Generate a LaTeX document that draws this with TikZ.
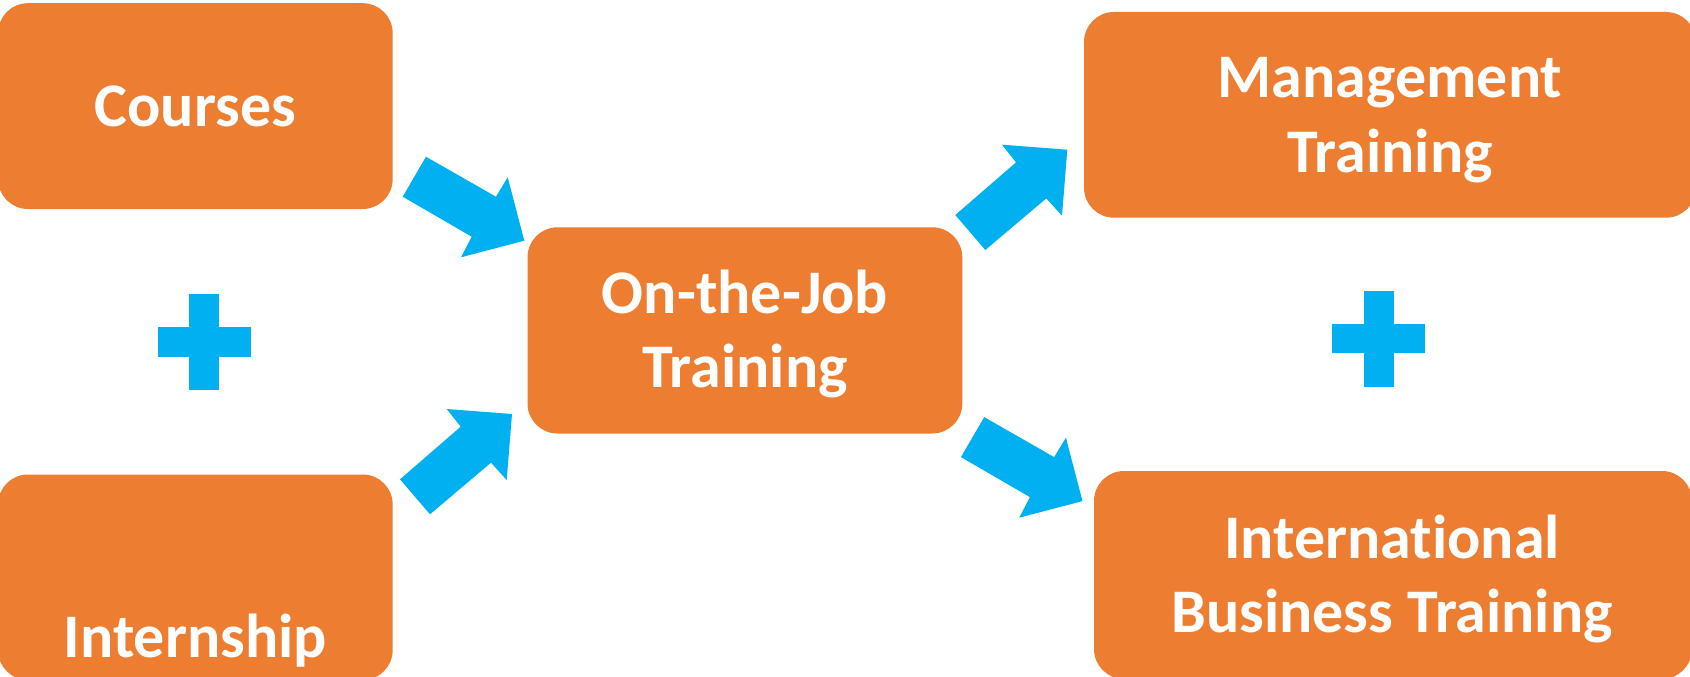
\documentclass[tikz,border=0pt]{standalone}
\usepackage{fontspec}
\setmainfont{Carlito}[Ligatures=NoCommon]
\definecolor{boxorange}{HTML}{ED7D31}
\definecolor{arrowblue}{HTML}{00B0F0}
\begin{document}
\begin{tikzpicture}[x=1pt,y=-1pt,
  box/.style={fill=boxorange, draw=none, rounded corners=30pt, inner sep=0pt, rectangle},
  lbl/.style={text=white, font=\fontsize{62}{74}\selectfont\bfseries, inner sep=0pt, anchor=base},
  blockarrow/.style={fill=arrowblue, draw=none},
  plusbar/.style={fill=arrowblue, draw=none}]
\useasboundingbox (0,0) rectangle (1690,677);
% boxes
\node[box, minimum width=394.7pt, minimum height=205.8pt] (courses) at (195.35,106.1) {};
\node[box, minimum width=394.7pt, minimum height=205.5pt] (intern) at (195.35,577.25) {};
\node[box, minimum width=434.8pt, minimum height=206.2pt] (ojt) at (744.9,330.4) {};
\node[box, minimum width=612pt, minimum height=205.7pt] (mgmt) at (1390,114.85) {};
\node[box, minimum width=598pt, minimum height=208pt] (ibt) at (1393,575) {};
% labels
\node[lbl] (tcourses) at (195.4,126) {Courses};
\node[lbl] (tintern) at (195.4,657) {Internship};
\node[lbl] (tojta) at (745,313) {On-the-Job};
\node[lbl] (tojtb) at (745,387) {Training};
\node[lbl] (tmgmta) at (1390,98) {Management};
\node[lbl] (tmgmtb) at (1390,172) {Training};
\node[lbl] (tibta) at (1392,558) {International};
\node[lbl] (tibtb) at (1392,632) {Business Training};
% block arrows
\fill[blockarrow] (426,156.7) -- (496,196.7) -- (507.7,177.3) -- (524.3,240.7) -- (461,257.3) -- (471.7,236.7) -- (402.7,196.7) -- cycle;
\begin{scope}[shift={(558.2,260.4)}]
\fill[blockarrow] (426,156.7) -- (496,196.7) -- (507.7,177.3) -- (524.3,240.7) -- (461,257.3) -- (471.7,236.7) -- (402.7,196.7) -- cycle;
\end{scope}
\fill[blockarrow] (400,479.3) -- (460.7,426.7) -- (446.7,409) -- (512,414) -- (506.7,480) -- (491,462.7) -- (430,514.3) -- cycle;
\begin{scope}[shift={(555.3,-264.3)}]
\fill[blockarrow] (400,479.3) -- (460.7,426.7) -- (446.7,409) -- (512,414) -- (506.7,480) -- (491,462.7) -- (430,514.3) -- cycle;
\end{scope}
% plus signs
\fill[plusbar] (189.3,294) rectangle (219,390);
\fill[plusbar] (157.7,327.3) rectangle (250.7,356.7);
\fill[plusbar] (1363.8,290.5) rectangle (1393.5,386.5);
\fill[plusbar] (1332.2,323.8) rectangle (1425.2,353.2);
\end{tikzpicture}
\end{document}
